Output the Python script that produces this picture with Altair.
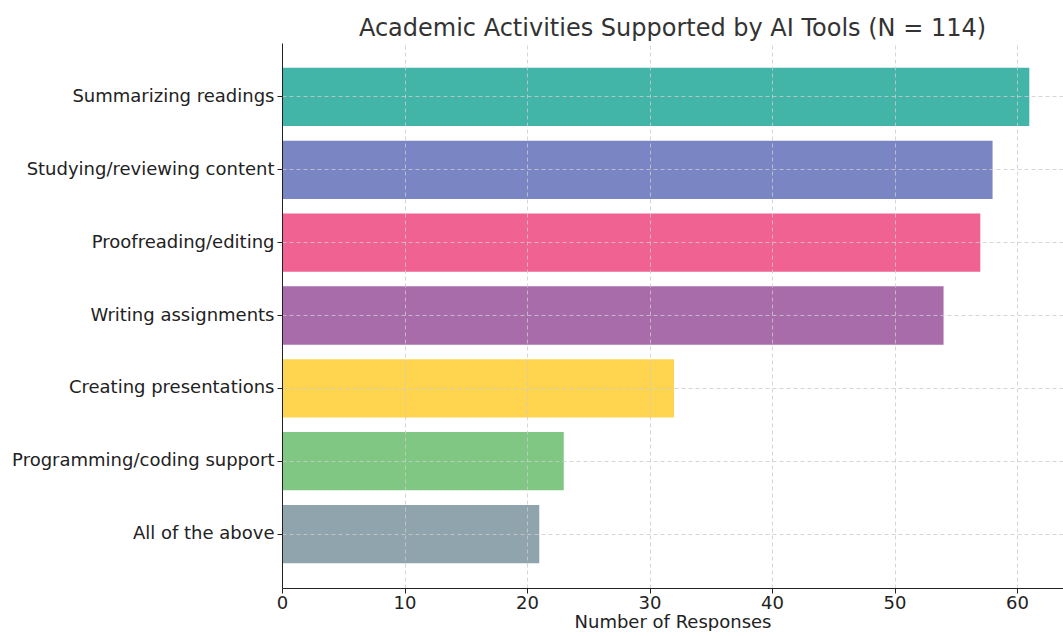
import altair as alt
import pandas as pd

activities = [
    "Summarizing readings",
    "Studying/reviewing content",
    "Proofreading/editing",
    "Writing assignments",
    "Creating presentations",
    "Programming/coding support",
    "All of the above",
]
responses = [61, 58, 57, 54, 32, 23, 21]
colors = ["#43B5A8", "#7A85C3", "#F06292", "#A86CAA", "#FFD54F", "#81C784", "#90A4AE"]

df = pd.DataFrame({"activity": activities, "responses": responses})

chart = (
    alt.Chart(df)
    .mark_bar()
    .encode(
        x=alt.X(
            "responses:Q",
            title="Number of Responses",
            scale=alt.Scale(domain=[0, 63.75], nice=False, zero=True),
            axis=alt.Axis(
                values=[0, 10, 20, 30, 40, 50, 60],
                format="d",
                grid=True,
                gridDash=[4, 3],
                gridColor="#cccccc",
                gridOpacity=0.8,
                domainColor="#222222",
                tickColor="#222222",
                tickSize=5,
                labelFontSize=18,
                labelColor="#222222",
                labelFlush=False,
                titleFontSize=18,
                titleFontWeight="normal",
                titleColor="#222222",
                titlePadding=1,
                labelPadding=1,
                zindex=1,
            ),
        ),
        y=alt.Y(
            "activity:N",
            sort=activities,
            title=None,
            scale=alt.Scale(paddingInner=0.2, paddingOuter=0.34),
            axis=alt.Axis(
                grid=True,
                bandPosition=0.5,
                gridDash=[4, 3],
                gridColor="#cccccc",
                gridOpacity=0.8,
                domainColor="#222222",
                tickColor="#222222",
                tickSize=5,
                labelFontSize=18,
                labelColor="#222222",
                labelPadding=3,
                labelLimit=400,
                zindex=1,
            ),
        ),
        color=alt.Color(
            "activity:N",
            sort=activities,
            scale=alt.Scale(domain=activities, range=colors),
            legend=None,
        ),
    )
    .properties(
        width=781,
        height=545,
        title=alt.TitleParams(
            "Academic Activities Supported by AI Tools (N = 114)",
            fontSize=24,
            fontWeight="normal",
            color="#333333",
            anchor="middle",
            offset=2,
        ),
        padding={"left": 11, "top": 17, "right": 0, "bottom": 0},
    )
    .configure(font="DejaVu Sans")
    .configure_view(stroke=None)
)

chart.save("out.html", embed_options={"renderer": "svg", "actions": False})
